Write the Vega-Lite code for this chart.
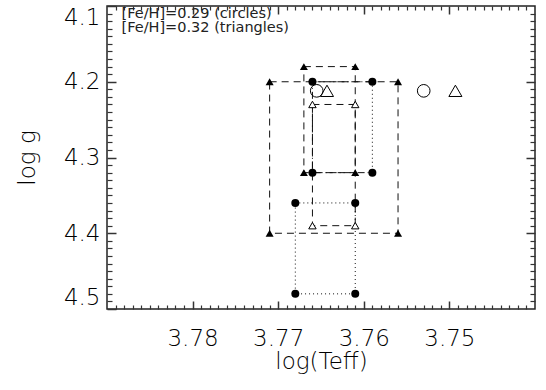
{
  "$schema": "https://vega.github.io/schema/vega-lite/v6.json",
  "width": 428,
  "height": 303,
  "autosize": {"type": "none"},
  "padding": {"left": 107, "top": 6, "right": 11, "bottom": 81},
  "background": "white",
  "config": {
    "view": {"stroke": "#222", "strokeWidth": 1.5},
    "font": "DejaVu Sans",
    "axis": {
      "domain": false,
      "grid": false,
      "labelColor": "#000",
      "titleColor": "#000",
      "labelFont": "DejaVu Sans",
      "titleFont": "DejaVu Sans",
      "labelFontWeight": 200,
      "titleFontWeight": 200,
      "labelFontSize": 23,
      "titleFontSize": 23,
      "labelOverlap": false,
      "labelBound": false
    }
  },
  "datasets": {
    "boxes": [
      {"box": "A", "ord": 1, "x": 3.771, "y": 4.20},
      {"box": "A", "ord": 2, "x": 3.756, "y": 4.20},
      {"box": "A", "ord": 3, "x": 3.756, "y": 4.40},
      {"box": "A", "ord": 4, "x": 3.771, "y": 4.40},
      {"box": "A", "ord": 5, "x": 3.771, "y": 4.20},
      {"box": "B", "ord": 1, "x": 3.767, "y": 4.18},
      {"box": "B", "ord": 2, "x": 3.761, "y": 4.18},
      {"box": "B", "ord": 3, "x": 3.761, "y": 4.32},
      {"box": "B", "ord": 4, "x": 3.767, "y": 4.32},
      {"box": "B", "ord": 5, "x": 3.767, "y": 4.18},
      {"box": "C", "ord": 1, "x": 3.759, "y": 4.20},
      {"box": "C", "ord": 2, "x": 3.766, "y": 4.20},
      {"box": "C", "ord": 3, "x": 3.766, "y": 4.32},
      {"box": "C", "ord": 4, "x": 3.759, "y": 4.32},
      {"box": "Cr", "ord": 1, "x": 3.759, "y": 4.20},
      {"box": "Cr", "ord": 2, "x": 3.759, "y": 4.32},
      {"box": "D", "ord": 1, "x": 3.768, "y": 4.36},
      {"box": "D", "ord": 2, "x": 3.761, "y": 4.36},
      {"box": "D", "ord": 3, "x": 3.761, "y": 4.48},
      {"box": "D", "ord": 4, "x": 3.768, "y": 4.48},
      {"box": "D", "ord": 5, "x": 3.768, "y": 4.36},
      {"box": "E", "ord": 1, "x": 3.766, "y": 4.23},
      {"box": "E", "ord": 2, "x": 3.761, "y": 4.23},
      {"box": "E", "ord": 3, "x": 3.761, "y": 4.39},
      {"box": "E", "ord": 4, "x": 3.766, "y": 4.39},
      {"box": "E", "ord": 5, "x": 3.766, "y": 4.23}
    ],
    "points": [
      {"kind": "tri_filled", "x": 3.771, "y": 4.20},
      {"kind": "tri_filled", "x": 3.756, "y": 4.20},
      {"kind": "tri_filled", "x": 3.756, "y": 4.40},
      {"kind": "tri_filled", "x": 3.771, "y": 4.40},
      {"kind": "tri_filled", "x": 3.767, "y": 4.18},
      {"kind": "tri_filled", "x": 3.761, "y": 4.18},
      {"kind": "tri_filled", "x": 3.761, "y": 4.32},
      {"kind": "tri_filled", "x": 3.767, "y": 4.32},
      {"kind": "circ_filled", "x": 3.766, "y": 4.20},
      {"kind": "circ_filled", "x": 3.759, "y": 4.20},
      {"kind": "circ_filled", "x": 3.766, "y": 4.32},
      {"kind": "circ_filled", "x": 3.759, "y": 4.32},
      {"kind": "circ_filled", "x": 3.768, "y": 4.36},
      {"kind": "circ_filled", "x": 3.761, "y": 4.36},
      {"kind": "circ_filled", "x": 3.768, "y": 4.48},
      {"kind": "circ_filled", "x": 3.761, "y": 4.48},
      {"kind": "tri_open_small", "x": 3.766, "y": 4.23},
      {"kind": "tri_open_small", "x": 3.761, "y": 4.23},
      {"kind": "tri_open_small", "x": 3.766, "y": 4.39},
      {"kind": "tri_open_small", "x": 3.761, "y": 4.39},
      {"kind": "circ_open", "x": 3.7655, "y": 4.212},
      {"kind": "circ_open", "x": 3.753, "y": 4.212},
      {"kind": "tri_open", "x": 3.7643, "y": 4.212},
      {"kind": "tri_open", "x": 3.7493, "y": 4.212}
    ],
    "notes": [
      {"label": "[Fe/H]=0.29 (circles)", "x": 3.7883, "y": 4.111},
      {"label": "[Fe/H]=0.32 (triangles)", "x": 3.7883, "y": 4.1285}
    ]
  },
  "layer": [
    {
      "data": {"name": "boxes"},
      "mark": {"type": "line", "color": "#111", "strokeWidth": 1},
      "encoding": {
        "x": {
          "field": "x", "type": "quantitative",
          "scale": {"domain": [3.74, 3.79], "reverse": true, "zero": false, "nice": false},
          "axis": {
            "orient": "bottom",
            "title": "log(Teff)",
            "values": [3.75, 3.76, 3.77, 3.78],
            "format": ".2f",
            "tickColor": "#333", "tickWidth": 1.5,
            "offset": -8,
            "tickSize": 8,
            "labelPadding": 18,
            "titlePadding": 0
          }
        },
        "y": {
          "field": "y", "type": "quantitative",
          "scale": {"domain": [4.1, 4.5], "reverse": true, "zero": false, "nice": false},
          "axis": {
            "orient": "left",
            "title": "log g",
            "values": [4.1, 4.2, 4.3, 4.4, 4.5],
            "format": ".1f",
            "tickColor": "#333", "tickWidth": 1.5,
            "offset": -9,
            "tickSize": 9,
            "labelFlush": true,
            "labelPadding": 7,
            "titlePadding": 24
          }
        },
        "strokeDash": {
          "field": "box", "type": "nominal",
          "scale": {"domain": ["A", "B", "C", "Cr", "D", "E"], "range": [[7, 5], [7, 5], [7, 3, 1, 3], [1, 3], [1, 3], [7, 5]]},
          "legend": null
        },
        "order": {"field": "ord", "type": "quantitative"}
      }
    },
    {
      "data": {"name": "points"},
      "transform": [{"filter": "datum.kind === 'tri_filled'"}],
      "mark": {"type": "point", "shape": "triangle-up", "filled": true, "color": "#000", "size": 64, "opacity": 1},
      "encoding": {
        "x": {
          "field": "x", "type": "quantitative",
          "axis": {
            "orient": "bottom", "title": null, "labels": false, "tickColor": "#333", "tickWidth": 1.2, "offset": -4, "tickSize": 4,
            "values": [3.741,3.742,3.743,3.744,3.745,3.746,3.747,3.748,3.749,3.751,3.752,3.753,3.754,3.755,3.756,3.757,3.758,3.759,3.761,3.762,3.763,3.764,3.765,3.766,3.767,3.768,3.769,3.771,3.772,3.773,3.774,3.775,3.776,3.777,3.778,3.779,3.781,3.782,3.783,3.784,3.785,3.786,3.787,3.788,3.789]
          }
        },
        "y": {
          "field": "y", "type": "quantitative",
          "axis": {
            "orient": "left", "title": null, "labels": false, "tickColor": "#333", "tickWidth": 1.2, "offset": -5, "tickSize": 5,
            "values": [4.11,4.12,4.13,4.14,4.15,4.16,4.17,4.18,4.19,4.21,4.22,4.23,4.24,4.25,4.26,4.27,4.28,4.29,4.31,4.32,4.33,4.34,4.35,4.36,4.37,4.38,4.39,4.41,4.42,4.43,4.44,4.45,4.46,4.47,4.48,4.49]
          }
        }
      }
    },
    {
      "data": {"name": "points"},
      "transform": [{"filter": "datum.kind === 'circ_filled'"}],
      "mark": {"type": "point", "shape": "circle", "filled": true, "color": "#000", "size": 64, "opacity": 1},
      "encoding": {
        "x": {
          "field": "x", "type": "quantitative",
          "axis": {"orient": "top", "title": null, "labels": false, "tickColor": "#333", "tickWidth": 1.5, "offset": -8, "tickSize": 8, "values": [3.75, 3.76, 3.77, 3.78]}
        },
        "y": {
          "field": "y", "type": "quantitative",
          "axis": {"orient": "right", "title": null, "labels": false, "tickColor": "#333", "tickWidth": 1.5, "offset": -9, "tickSize": 9, "values": [4.2, 4.3, 4.4]}
        }
      }
    },
    {
      "data": {"name": "points"},
      "transform": [{"filter": "datum.kind === 'tri_open_small'"}],
      "mark": {"type": "point", "shape": "triangle-up", "filled": true, "fill": "white", "stroke": "#000", "strokeWidth": 1, "size": 55, "opacity": 1},
      "encoding": {
        "x": {
          "field": "x", "type": "quantitative",
          "axis": {
            "orient": "top", "title": null, "labels": false, "tickColor": "#333", "tickWidth": 1.2, "offset": -4, "tickSize": 4,
            "values": [3.741,3.742,3.743,3.744,3.745,3.746,3.747,3.748,3.749,3.751,3.752,3.753,3.754,3.755,3.756,3.757,3.758,3.759,3.761,3.762,3.763,3.764,3.765,3.766,3.767,3.768,3.769,3.771,3.772,3.773,3.774,3.775,3.776,3.777,3.778,3.779,3.781,3.782,3.783,3.784,3.785,3.786,3.787,3.788,3.789]
          }
        },
        "y": {
          "field": "y", "type": "quantitative",
          "axis": {
            "orient": "right", "title": null, "labels": false, "tickColor": "#333", "tickWidth": 1.2, "offset": -5, "tickSize": 5,
            "values": [4.11,4.12,4.13,4.14,4.15,4.16,4.17,4.18,4.19,4.21,4.22,4.23,4.24,4.25,4.26,4.27,4.28,4.29,4.31,4.32,4.33,4.34,4.35,4.36,4.37,4.38,4.39,4.41,4.42,4.43,4.44,4.45,4.46,4.47,4.48,4.49]
          }
        }
      }
    },
    {
      "data": {"name": "points"},
      "transform": [{"filter": "datum.kind === 'circ_open'"}],
      "mark": {"type": "point", "shape": "circle", "filled": false, "stroke": "#000", "strokeWidth": 1, "size": 160, "opacity": 1},
      "encoding": {
        "x": {"field": "x", "type": "quantitative", "axis": null},
        "y": {"field": "y", "type": "quantitative", "axis": null}
      }
    },
    {
      "data": {"name": "points"},
      "transform": [{"filter": "datum.kind === 'tri_open'"}],
      "mark": {"type": "point", "shape": "triangle-up", "filled": false, "stroke": "#000", "strokeWidth": 1, "size": 170, "opacity": 1},
      "encoding": {
        "x": {"field": "x", "type": "quantitative", "axis": null},
        "y": {"field": "y", "type": "quantitative", "axis": null}
      }
    },
    {
      "data": {"name": "notes"},
      "mark": {"type": "text", "align": "left", "baseline": "middle", "fontSize": 14.5, "font": "DejaVu Sans", "fontWeight": "normal", "color": "#222"},
      "encoding": {
        "x": {"field": "x", "type": "quantitative", "axis": null},
        "y": {"field": "y", "type": "quantitative", "axis": null},
        "text": {"field": "label"}
      }
    }
  ],
  "resolve": {"axis": {"x": "independent", "y": "independent"}}
}
